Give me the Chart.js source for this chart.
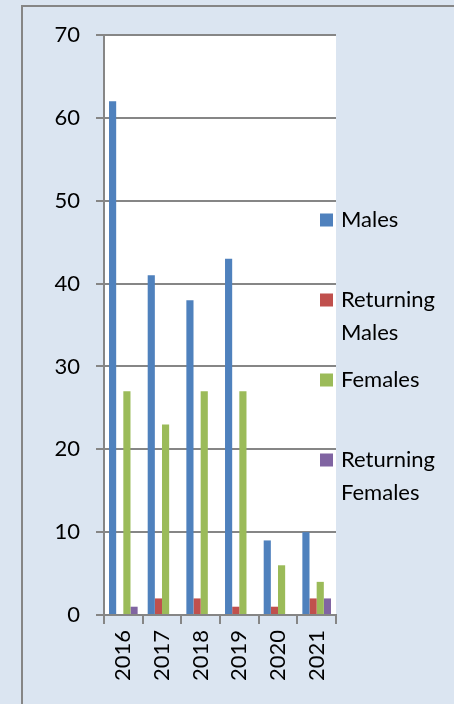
<!DOCTYPE html>
<html>
<head>
<meta charset="utf-8">
<script src="https://cdn.jsdelivr.net/npm/chart.js@4/dist/chart.umd.min.js"></script>
<style>
html,body{margin:0;padding:0;background:#DBE5F1;}
canvas{display:block;}
</style>
</head>
<body>
<canvas id="c" width="454" height="704"></canvas>
<script>
const categories = ['2016', '2017', '2018', '2019', '2020', '2021'];
const seriesNames = ['Males', 'Returning Males', 'Females', 'Returning Females'];
const males = [62, 41, 38, 43, 9, 10];
const returningMales = [0, 2, 2, 1, 1, 2];
const females = [27, 23, 27, 27, 6, 4];
const returningFemales = [1, 0, 0, 0, 0, 2];
const yMin = 0, yMax = 70, yStep = 10;

const colors = ['#4F81BD', '#C0504D', '#9BBB59', '#8064A2'];
const FONT = 'Lato, "Liberation Sans", sans-serif';
const GRID = '#868686';

const bgPlugin = {
  id: 'bg',
  beforeDraw(chart) {
    const ctx = chart.ctx, a = chart.chartArea;
    ctx.save();
    ctx.fillStyle = '#DBE5F1';
    ctx.fillRect(0, 0, chart.width, chart.height);
    ctx.strokeStyle = GRID;
    ctx.lineWidth = 2;
    ctx.beginPath();
    ctx.moveTo(22, chart.height);
    ctx.lineTo(22, 6);
    ctx.lineTo(chart.width, 6);
    ctx.stroke();
    ctx.fillStyle = '#FFFFFF';
    ctx.fillRect(a.left, a.top, a.right - a.left, a.bottom - a.top);
    ctx.restore();
  }
};

function wrap(ctx, text, maxW) {
  const words = text.split(' ');
  const lines = [];
  let cur = '';
  for (const w of words) {
    const t = cur ? cur + ' ' + w : w;
    if (ctx.measureText(t).width > maxW && cur) { lines.push(cur); cur = w; }
    else cur = t;
  }
  if (cur) lines.push(cur);
  return lines;
}

const legendPlugin = {
  id: 'sideLegend',
  afterDraw(chart) {
    const ctx = chart.ctx;
    ctx.save();
    ctx.font = '22px ' + FONT;
    ctx.textBaseline = 'middle';
    ctx.textAlign = 'left';
    const boxX = 320, box = 13, textX = 341, startY = 220, stepY = 80, lineH = 33;
    chart.data.datasets.forEach((ds, i) => {
      const cy = startY + i * stepY;
      ctx.fillStyle = ds.backgroundColor;
      ctx.fillRect(boxX, cy - box / 2, box, box);
      ctx.fillStyle = '#000';
      const lines = wrap(ctx, ds.label, chart.width - textX - 2);
      lines.forEach((ln, k) => ctx.fillText(ln, textX, cy + k * lineH));
    });
    ctx.restore();
  }
};

const seriesData = [males, returningMales, females, returningFemales];

new Chart(document.getElementById('c'), {
  type: 'bar',
  data: {
    labels: categories,
    datasets: seriesNames.map((name, i) => ({
      label: name,
      data: seriesData[i],
      backgroundColor: colors[i],
      borderWidth: 0,
      categoryPercentage: 0.74,
      barPercentage: 1.0
    }))
  },
  options: {
    responsive: false,
    animation: false,
    devicePixelRatio: 1,
    layout: { padding: { top: 35, right: 118, left: 0, bottom: 0 } },
    plugins: { legend: { display: false }, tooltip: { enabled: false } },
    scales: {
      x: {
        grid: { drawOnChartArea: false, offset: true, color: GRID, lineWidth: 2, tickLength: 9 },
        border: { color: GRID, width: 2 },
        ticks: { color: '#000', font: { family: FONT, size: 22 }, minRotation: 90, maxRotation: 90, padding: 6 },
        afterFit(s) { s.height = 89; }
      },
      y: {
        min: yMin, max: yMax,
        grid: { color: GRID, lineWidth: 2, tickLength: 8 },
        border: { color: GRID, width: 2 },
        ticks: { stepSize: yStep, color: '#000', font: { family: FONT, size: 22 }, padding: 16 },
        afterFit(s) { s.width = 104; }
      }
    }
  },
  plugins: [bgPlugin, legendPlugin]
});
</script>
</body>
</html>
